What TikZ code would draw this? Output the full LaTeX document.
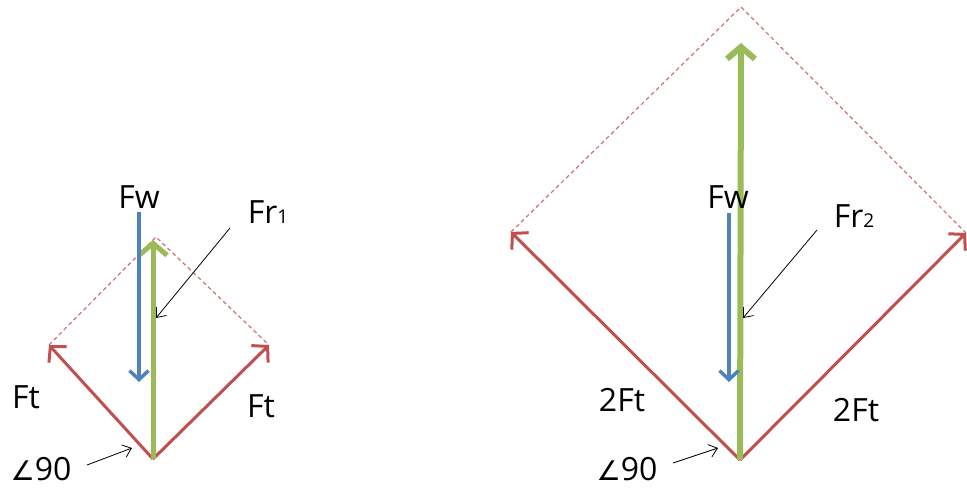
\documentclass[tikz,border=0pt]{standalone}
\usepackage{fontspec}
\setmainfont{Open Sans}
\newfontfamily\symfont{DejaVu Sans}
\usetikzlibrary{arrows.meta}

\definecolor{ftred}{HTML}{C0504D}
\definecolor{frgreen}{HTML}{9BBB59}
\definecolor{fwblue}{HTML}{4F81BD}

\newcommand{\subdigit}[1]{{\fontsize{19}{19}\selectfont #1}}
\newcommand{\angsym}{{\symfont\fontsize{27}{27}\selectfont ∠}}

\begin{document}
\begin{tikzpicture}[x=1pt, y=-1pt,
  font=\fontsize{32}{36}\selectfont,
  lbl/.style={inner sep=0pt, anchor=center},
  ft/.style={draw=ftred, line width=3pt, -{Straight Barb[length=11pt,width=24pt]}},
  fr/.style={draw=frgreen, -{Straight Barb[length=12pt,width=28pt]}},
  fw/.style={draw=fwblue, line width=3.5pt, -{Straight Barb[length=9pt,width=19pt]}},
  guide/.style={draw=ftred!80, line width=1.2pt, dash pattern=on 4pt off 3pt},
  note/.style={draw=black, line width=0.8pt, -{Straight Barb[length=8pt,width=13pt]}}
]
\useasboundingbox (0,0) rectangle (967,489);

% left diagram
\coordinate (o1) at (153,459);
\coordinate (l1) at (49,345);
\coordinate (r1) at (269,345);
\coordinate (a1) at (156,237);
\draw[guide] (l1) -- (a1) -- (r1);
\draw[ft] (o1) -- (l1);
\draw[ft] (o1) -- (r1);
\draw[fr, line width=5pt] (o1) -- (153,240) coordinate (g1);
\draw[fw] (139,212) coordinate (w1) -- (139,382);

\node[lbl] (fw1) at (139,197) {Fw};
\node[lbl] (fr1) at (268,212) {Fr\subdigit{1}};
\node[lbl] (ftl1) at (26,397) {Ft};
\node[lbl] (ftr1) at (261,406) {Ft};
\node[lbl] (ang1) at (41,469) {\angsym 90};

\coordinate (fr1from) at (230,228);
\coordinate (fr1to) at (156,318);
\draw[note] (fr1from) -- (fr1to);
\coordinate (ang1from) at (87,465);
\coordinate (ang1to) at (132,448);
\draw[note] (ang1from) -- (ang1to);

% right diagram
\coordinate (o2) at (740,460);
\coordinate (l2) at (511,232);
\coordinate (r2) at (966,233);
\coordinate (a2) at (741,7);
\draw[guide] (l2) -- (a2) -- (r2);
\draw[ft] (o2) -- (l2);
\draw[ft] (o2) -- (r2);
\draw[fr, line width=6pt] (o2) -- (741,43) coordinate (g2);
\draw[fw] (729,213) coordinate (w2) -- (729,382);

\node[lbl] (fw2) at (728,197) {Fw};
\node[lbl] (fr2) at (854,216) {Fr\subdigit{2}};
\node[lbl] (ftl2) at (622,400) {2Ft};
\node[lbl] (ftr2) at (856,410) {2Ft};
\node[lbl] (ang2) at (627,469) {\angsym 90};

\coordinate (fr2from) at (817,230);
\coordinate (fr2to) at (743,318);
\draw[note] (fr2from) -- (fr2to);
\coordinate (ang2from) at (673,463);
\coordinate (ang2to) at (718,448);
\draw[note] (ang2from) -- (ang2to);
\end{tikzpicture}
\end{document}
